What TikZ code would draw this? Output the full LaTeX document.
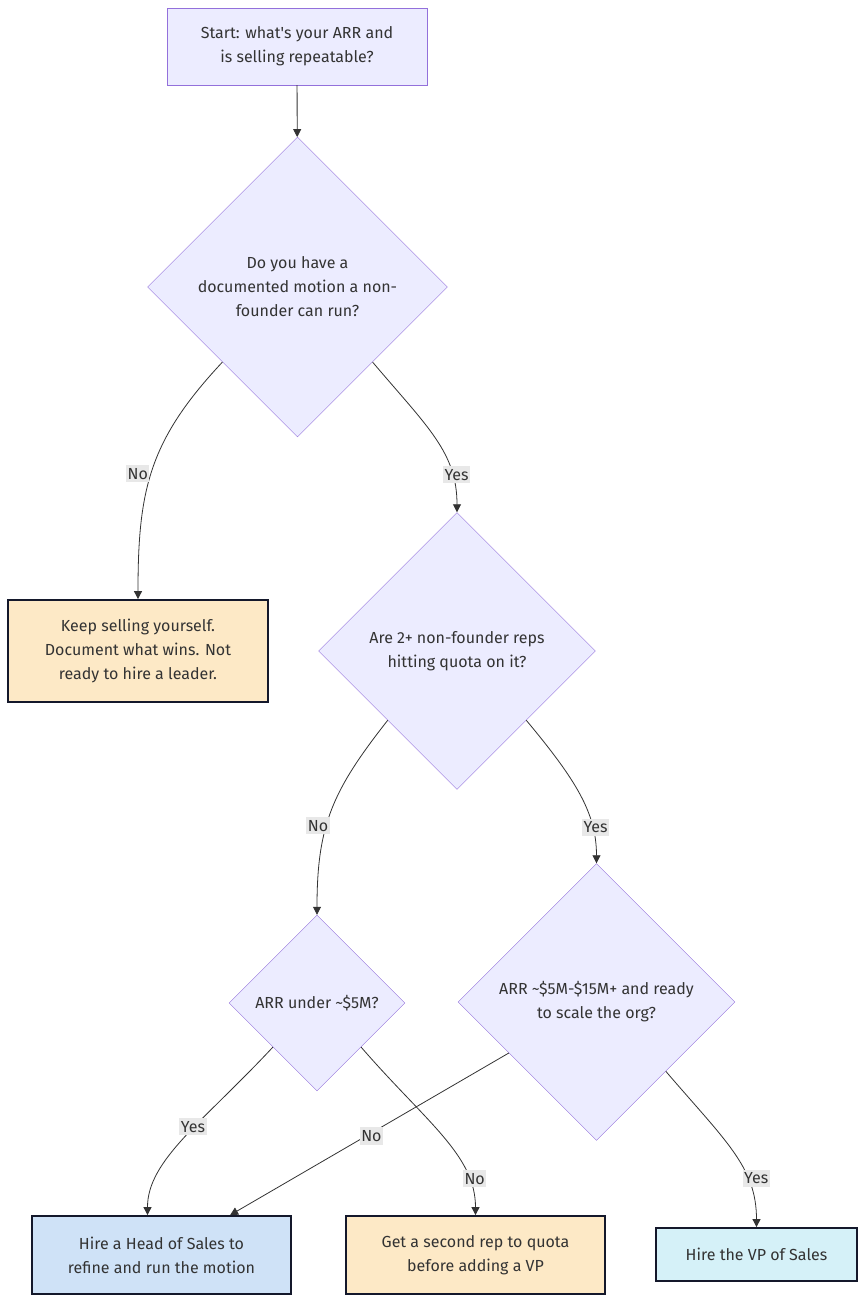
\documentclass[tikz,border=0pt]{standalone}
\usepackage{fontspec}
\setmainfont{Fira Sans}
\usepackage{xcolor}
\usepackage{tikz}
\usetikzlibrary{arrows.meta,positioning,shapes.geometric}

\definecolor{qfill}{HTML}{ECECFF}
\definecolor{qline}{HTML}{9370DB}
\definecolor{warnfill}{HTML}{FDE9C6}
\definecolor{headfill}{HTML}{CFE2F7}
\definecolor{vpfill}{HTML}{D5F1F8}
\definecolor{boxline}{HTML}{14182B}
\definecolor{edgecol}{HTML}{333333}
\definecolor{lblfill}{HTML}{E8E8E8}

\begin{document}
\begin{tikzpicture}[
    x=1pt, y=-1pt,
    font=\fontsize{16}{24}\selectfont,
    text=edgecol,
    startbox/.style={rectangle,draw=qline,fill=qfill,align=center,minimum width=260pt,minimum height=77pt},
    decision/.style={diamond,draw=qline,fill=qfill,align=center,aspect=1,inner sep=0pt},
    outcome/.style={rectangle,draw=boxline,line width=1.8pt,align=center,minimum height=78pt},
    lbl/.style={fill=lblfill,inner xsep=1.5pt,inner ysep=3pt,font=\fontsize{16}{18}\selectfont},
    arrow/.style={-{Triangle[length=8pt,width=8pt]},edgecol,line width=0.8pt}
]
\useasboundingbox (0,0) rectangle (865,1302);

\node[startbox] (start) at (297,46.5) {Start: what\textquotesingle s your ARR and\\is selling repeatable?};
\node[decision,minimum width=300pt,minimum height=300pt] (motion) at (297.5,287) {Do you have a\\documented motion a non-\\founder can run?};
\node[outcome,fill=warnfill,minimum width=260pt,minimum height=102pt] (keep) at (138,651) {Keep selling yourself.\\Document what wins. Not\\ready to hire a leader.};
\node[decision,minimum width=277pt,minimum height=277pt] (reps) at (457,651) {Are 2+ non-founder reps\\hitting quota on it?};
\node[decision,minimum width=176pt,minimum height=176pt] (under) at (317,1003) {ARR under \textasciitilde\$5M?};
\node[decision,minimum width=277pt,minimum height=277pt] (scale) at (596.5,1002) {ARR \textasciitilde\$5M-\$15M+ and ready\\to scale the org?};
\node[outcome,fill=headfill,minimum width=259pt] (head) at (161.5,1255) {Hire a Head of Sales to\\refine and run the motion};
\node[outcome,fill=warnfill,minimum width=259pt] (second) at (475.5,1255) {Get a second rep to quota\\before adding a VP};
\node[outcome,fill=vpfill,minimum width=201pt,minimum height=53pt] (vp) at (756.5,1254.5) {Hire the VP of Sales};

\draw[arrow] (start) -- (motion);
\draw[arrow] (motion.south west) .. controls +(-73,78) and +(0,-110) .. node[lbl,pos=0.5,xshift=-15pt,yshift=-5pt]{No} (keep.north);
\draw[arrow] (motion.south east) .. controls +(55,65) and +(0,-60) .. node[lbl,pos=0.75,xshift=5pt,yshift=-2pt]{Yes} (reps.north);
\draw[arrow] (reps.south west) .. controls +(-55,70) and +(0,-90) .. node[lbl,pos=0.6,xshift=-8pt,yshift=2pt]{No} (under.north);
\draw[arrow] (reps.south east) .. controls +(50,60) and +(0,-50) .. node[lbl,pos=0.72,xshift=4pt,yshift=-3pt]{Yes} (scale.north);
\draw[arrow] (under.south west) .. controls +(-70,75) and +(0,-55) .. node[lbl,pos=0.45,xshift=2pt,yshift=4pt]{Yes} ([xshift=-14pt]head.north);
\draw[arrow] (under.south east) .. controls +(65,75) and +(0,-60) .. node[lbl,pos=0.78,xshift=6pt]{No} (second.north);
\draw[arrow] (scale) -- node[lbl,xshift=2pt,yshift=-2pt]{No} (head);
\draw[arrow] (scale.south east) .. controls +(60,70) and +(0,-60) .. node[lbl,pos=0.7,xshift=8pt,yshift=2pt]{Yes} (vp.north);
\end{tikzpicture}
\end{document}
